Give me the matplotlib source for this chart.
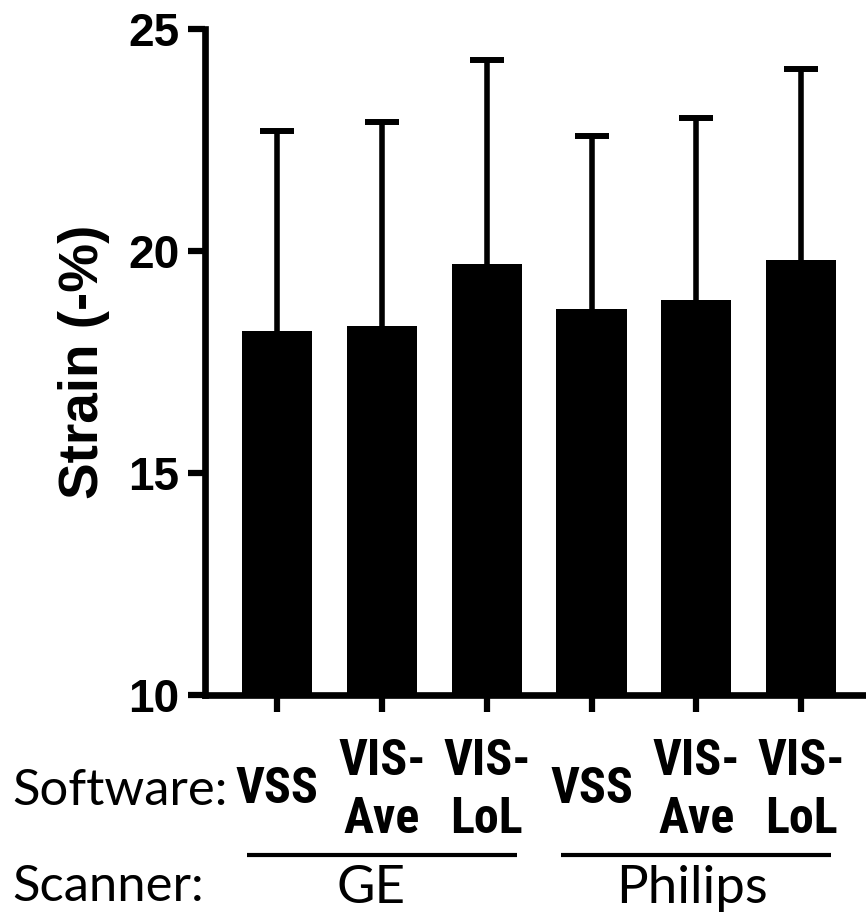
import matplotlib
matplotlib.use("Agg")
import matplotlib.pyplot as plt
import matplotlib.transforms as mtransforms

# mean strain and SD for each software/scanner combination
software = ["VSS", "VIS-\nAve", "VIS-\nLoL", "VSS", "VIS-\nAve", "VIS-\nLoL"]
means = [18.2, 18.3, 19.7, 18.7, 18.9, 19.8]
sds = [4.5, 4.6, 4.6, 3.9, 4.1, 4.3]
scanners = ["GE", "Philips"]
scanner_label_x = [0.89, 3.96]
scanner_centers = [1, 4]

W, H = 866, 917
fig = plt.figure(figsize=(W / 100, H / 100), dpi=100)
ax = fig.add_axes([205 / W, 1 - 695 / H, (W - 205) / W, (695 - 29) / H])

x = list(range(len(means)))
ax.bar(x, means, width=0.67, color="black", zorder=2)
eb = ax.errorbar(x, means, yerr=[[0] * len(sds), sds], fmt="none", ecolor="black",
                 elinewidth=4, capsize=12, capthick=4.3, zorder=3)
# only the upper cap is wanted
for cap in eb.lines[1]:
    if list(cap.get_ydata()) == means:
        cap.set_visible(False)

ax.set_ylim(10, 25)
ax.set_xlim(-0.69, 5.62)
ax.set_yticks([10, 15, 20, 25])
ax.set_xticks(x)
ax.set_xticklabels([])

for s in ["top", "right"]:
    ax.spines[s].set_visible(False)
for s in ["left", "bottom"]:
    ax.spines[s].set_linewidth(4.8)
ax.tick_params(axis="both", width=4.5, length=12.5, direction="out")
ax.tick_params(axis="y", pad=6, labelsize=33)
for lab in ax.get_yticklabels():
    lab.set_fontfamily("Liberation Sans")
    lab.set_fontweight("bold")

ax.set_ylabel("Strain (-%)", fontsize=39.5, fontweight="bold", family="Liberation Sans")
ax.yaxis.set_label_coords(-0.144, 0.5)

# labels under the axis: x in data units, y in figure fraction
trans = mtransforms.blended_transform_factory(ax.transData, fig.transFigure)
cond = ["Roboto Condensed", "Roboto"]
for xi, lab in zip(x, software):
    lines = lab.split("\n")
    ys = [803] if len(lines) == 1 else [775, 833]
    for line, yp in zip(lines, ys):
        ax.text(xi, 1 - yp / H, line, transform=trans, ha="center", va="baseline",
                fontsize=36, fontweight="bold", family=cond)

for c, lx, name in zip(scanner_centers, scanner_label_x, scanners):
    ax.plot([c - 1.29, c + 1.29], [1 - 855 / H] * 2, color="black", lw=3,
            transform=trans, clip_on=False, solid_capstyle="butt")
    ax.text(lx, 1 - 903 / H, name, transform=trans, ha="center", va="baseline",
            fontsize=38, family="Lato")

fig.text(12 / W, 1 - 805 / H, "Software:", ha="left", va="baseline", fontsize=36.5, family="Lato")
fig.text(12 / W, 1 - 901 / H, "Scanner:", ha="left", va="baseline", fontsize=36.5, family="Lato")

fig.savefig("out.png", dpi=100)
